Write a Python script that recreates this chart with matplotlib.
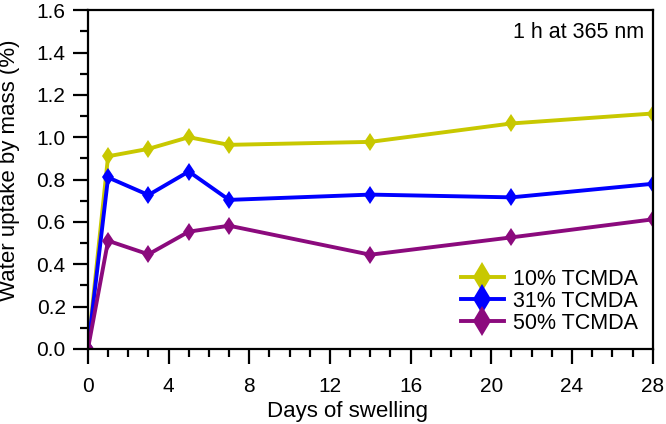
import matplotlib
matplotlib.use("Agg")
import matplotlib.pyplot as plt
from matplotlib.ticker import MultipleLocator

plt.rcParams['font.family'] = ['Liberation Sans', 'DejaVu Sans']

days = [0, 1, 3, 5, 7, 14, 21, 28]
uptake_10 = [0.0, 0.91, 0.945, 1.0, 0.964, 0.978, 1.065, 1.112]
uptake_31 = [0.0, 0.81, 0.727, 0.838, 0.704, 0.729, 0.716, 0.78]
uptake_50 = [0.0, 0.511, 0.447, 0.554, 0.582, 0.445, 0.527, 0.612]
labels = ["10% TCMDA", "31% TCMDA", "50% TCMDA"]
colors = ["#c8c800", "#0000ff", "#8b0a7d"]

fig = plt.figure(figsize=(6.66, 4.24), dpi=100)
ax = fig.add_axes([0.132, 0.177, 0.848, 0.799])

for y, lab, c in zip([uptake_10, uptake_31, uptake_50], labels, colors):
    ax.plot(days, y, color=c, lw=2.8, marker='d', markersize=9.5,
            markeredgewidth=0, label=lab)

ax.set_xlim(0, 28)
ax.set_ylim(0, 1.6)
ax.xaxis.set_major_locator(MultipleLocator(4))
ax.xaxis.set_minor_locator(MultipleLocator(1))
ax.yaxis.set_major_locator(MultipleLocator(0.2))
ax.yaxis.set_minor_locator(MultipleLocator(0.1))
ax.yaxis.set_major_formatter(plt.FormatStrFormatter('%.1f'))

for s in ax.spines.values():
    s.set_linewidth(1.6)
ax.tick_params(which='both', direction='out', width=1.6, labelsize=15,
               top=False, right=False)
ax.tick_params(which='major', length=11)
ax.tick_params(which='minor', length=6)
ax.tick_params(axis='x', which='major', pad=9)
ax.tick_params(axis='y', which='major', pad=5)

ax.set_xlabel("Days of swelling", fontsize=16, labelpad=0)
ax.xaxis.set_label_coords(0.46, -0.155)
ax.set_ylabel("Water uptake by mass (%)", fontsize=16)
ax.yaxis.set_label_coords(-0.12, 0.528)

ax.text(0.985, 0.935, "1 h at 365 nm", transform=ax.transAxes,
        ha='right', va='center', fontsize=15.5)

ax.legend(loc='lower right', frameon=False, fontsize=15.5,
          handlelength=2.0, handletextpad=0.4, labelspacing=0.05,
          borderaxespad=0.3, markerscale=1.6)

fig.savefig("out.png", dpi=100)
